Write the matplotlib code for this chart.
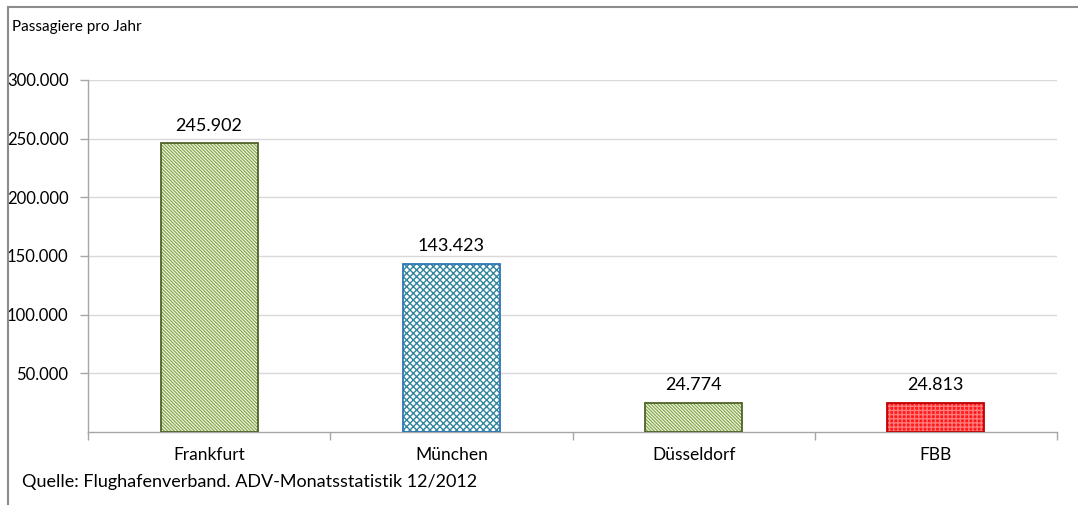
import matplotlib.pyplot as plt
from matplotlib.lines import Line2D
from matplotlib.ticker import FuncFormatter, FixedLocator

plt.rcParams['font.family'] = ['Lato', 'DejaVu Sans']
plt.rcParams['hatch.linewidth'] = 1.0

airports = ["Frankfurt", "München", "Düsseldorf", "FBB"]
passengers = [245902, 143423, 24774, 24813]
y_ticks = [50000, 100000, 150000, 200000, 250000, 300000]

face_colors = ["#ffffff", "#ffffff", "#ffffff", "#ff1a1a"]
hatch_colors = ["#8aab4f", "#31859c", "#8aab4f", "#ff7a7a"]
hatches = ["\\" * 10, "x" * 5, "\\" * 10, "+" * 4]
edge_colors = ["#4f6228", "#2e75b6", "#4f6228", "#c00000"]


def dotted(v):
    return f"{v:,.0f}".replace(",", ".")


fig = plt.figure(figsize=(10.78, 5.05), dpi=100)
ax = fig.add_axes([88 / 1078, 1 - 432 / 505, 969 / 1078, 352 / 505])

x = list(range(len(airports)))

# fill + hatch first, then outline on top
for i in x:
    ax.bar(i, passengers[i], width=0.4, color=face_colors[i],
           edgecolor=hatch_colors[i], hatch=hatches[i], linewidth=0, zorder=2)
ax.bar(x, passengers, width=0.4, fill=False, edgecolor=edge_colors,
       linewidth=1.3, zorder=3)

for i, v in enumerate(passengers):
    ax.annotate(dotted(v), (i, v), xytext=(0, 7), textcoords="offset points",
                ha="center", va="bottom", fontsize=13, color="#000000")

ax.set_xlim(-0.5, len(airports) - 0.5)
ax.set_ylim(0, 300000)

ax.yaxis.set_major_locator(FixedLocator(y_ticks))
ax.yaxis.set_major_formatter(FuncFormatter(lambda v, p: dotted(v)))
ax.grid(axis="y", color="#d9d9d9", linewidth=1, zorder=0)
ax.set_axisbelow(True)

ax.set_xticks(x)
ax.set_xticklabels(airports)
ax.set_xticks([i - 0.5 for i in range(len(airports) + 1)], minor=True)
ax.tick_params(axis="x", which="major", length=0, pad=11, labelsize=12.5)
ax.tick_params(axis="x", which="minor", length=6, color="#a6a6a6", width=1)
ax.tick_params(axis="y", length=6, color="#a6a6a6", width=1, labelsize=12,
               pad=8)

for side in ["top", "right"]:
    ax.spines[side].set_visible(False)
for side in ["left", "bottom"]:
    ax.spines[side].set_color("#a6a6a6")
    ax.spines[side].set_linewidth(1)

fig.text(12 / 1078, 1 - 27 / 505, "Passagiere pro Jahr", fontsize=11,
         va="center", ha="left")
fig.text(22 / 1078, 1 - 482 / 505,
         "Quelle: Flughafenverband. ADV-Monatsstatistik 12/2012",
         fontsize=13, va="center", ha="left")

# frame around chart (top and left only visible)
fig.add_artist(Line2D([8 / 1078, 1], [1 - 7 / 505, 1 - 7 / 505],
                      transform=fig.transFigure, color="#8c8c8c", linewidth=1.5))
fig.add_artist(Line2D([8 / 1078, 8 / 1078], [0, 1 - 7 / 505],
                      transform=fig.transFigure, color="#8c8c8c", linewidth=1.5))

fig.savefig("out.png", dpi=100)
